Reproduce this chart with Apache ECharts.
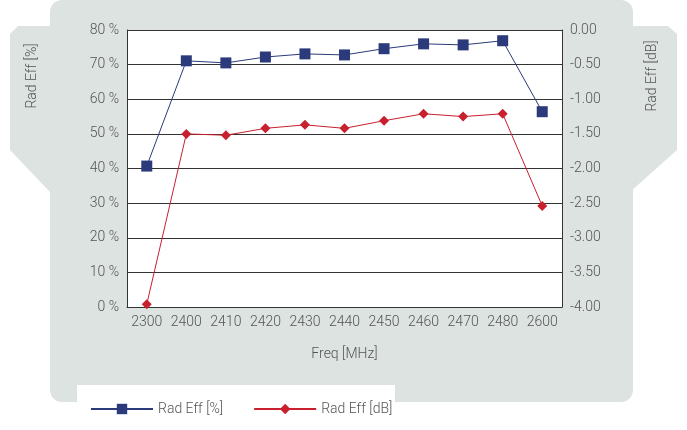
<!DOCTYPE html>
<html>
<head>
<meta charset="UTF-8">
<script src="https://cdn.jsdelivr.net/npm/echarts@6/dist/echarts.min.js"></script>
<style>html,body{margin:0;padding:0;background:#fff}#main{width:687px;height:430px}</style>
</head>
<body>
<div id="main"></div>
<script>
var freqs = ['2300','2400','2410','2420','2430','2440','2450','2460','2470','2480','2600'];
var radEffPct = [40.7, 71.1, 70.5, 72.2, 73.1, 72.8, 74.6, 76.0, 75.7, 76.9, 56.4];
var radEffDb = [-3.96, -1.50, -1.52, -1.42, -1.37, -1.42, -1.31, -1.21, -1.25, -1.21, -2.54];

var bg = '#dde3e0';
var txt = '#555';
var chart = echarts.init(document.getElementById('main'));
chart.setOption({
  animation: false,
  textStyle: { fontFamily: 'Roboto', fontWeight: 300 },
  graphic: [
    { type: 'rect', z: -10, shape: { x: 50, y: 0, width: 583, height: 402, r: 12 }, style: { fill: bg } },
    { type: 'polygon', z: -10, shape: { points: [[52,26],[18,26],[10,34],[10,150],[50,192]] }, style: { fill: bg } },
    { type: 'polygon', z: -10, shape: { points: [[630,26],[668,26],[677,34],[677,150],[630,192]] }, style: { fill: bg } },
    { type: 'rect', z: -9, shape: { x: 77, y: 385, width: 318, height: 45 }, style: { fill: '#fff' } },
    { type: 'text', x: 32, y: 76, rotation: Math.PI / 2, style: { text: 'Rad Eff [%]', fill: txt, fontSize: 14, fontFamily: 'Roboto', fontWeight: 300, align: 'center', verticalAlign: 'middle' } },
    { type: 'text', x: 652, y: 76, rotation: Math.PI / 2, style: { text: 'Rad Eff [dB]', fill: txt, fontSize: 14, fontFamily: 'Roboto', fontWeight: 300, align: 'center', verticalAlign: 'middle' } }
  ],
  grid: { left: 127, right: 125, top: 30, bottom: 123, show: true, backgroundColor: '#fff', borderWidth: 0 },
  legend: {
    top: 397, left: 85, itemGap: 30, itemWidth: 62, itemHeight: 13,
    textStyle: { color: txt, fontSize: 14, fontFamily: 'Roboto', fontWeight: 300 },
    data: ['Rad Eff [%]', 'Rad Eff [dB]']
  },
  xAxis: {
    type: 'category', data: freqs, name: 'Freq [MHz]', nameLocation: 'middle', nameGap: 40,
    nameTextStyle: { color: txt, fontSize: 14 },
    axisLine: { lineStyle: { color: '#333' } }, axisTick: { show: false },
    axisLabel: { color: txt, fontSize: 14, interval: 0, hideOverlap: false }
  },
  yAxis: [
    { type: 'value', min: 0, max: 80, interval: 10,
      axisLine: { show: true, lineStyle: { color: '#333' } },
      axisLabel: { color: txt, fontSize: 14, formatter: '{value} %' },
      splitLine: { lineStyle: { color: '#333' } } },
    { type: 'value', min: -4, max: 0, interval: 0.5,
      axisLine: { show: true, lineStyle: { color: '#333' } },
      axisLabel: { color: txt, fontSize: 14, formatter: function (v) { return v.toFixed(2); } },
      splitLine: { show: false } }
  ],
  series: [
    { name: 'Rad Eff [%]', type: 'line', data: radEffPct, yAxisIndex: 0, symbol: 'rect', symbolSize: 11,
      color: '#2b3a7a', lineStyle: { width: 1 } },
    { name: 'Rad Eff [dB]', type: 'line', data: radEffDb, yAxisIndex: 1, symbol: 'diamond', symbolSize: 10,
      color: '#c8202f', lineStyle: { width: 1 } }
  ]
});
</script>
</body>
</html>
